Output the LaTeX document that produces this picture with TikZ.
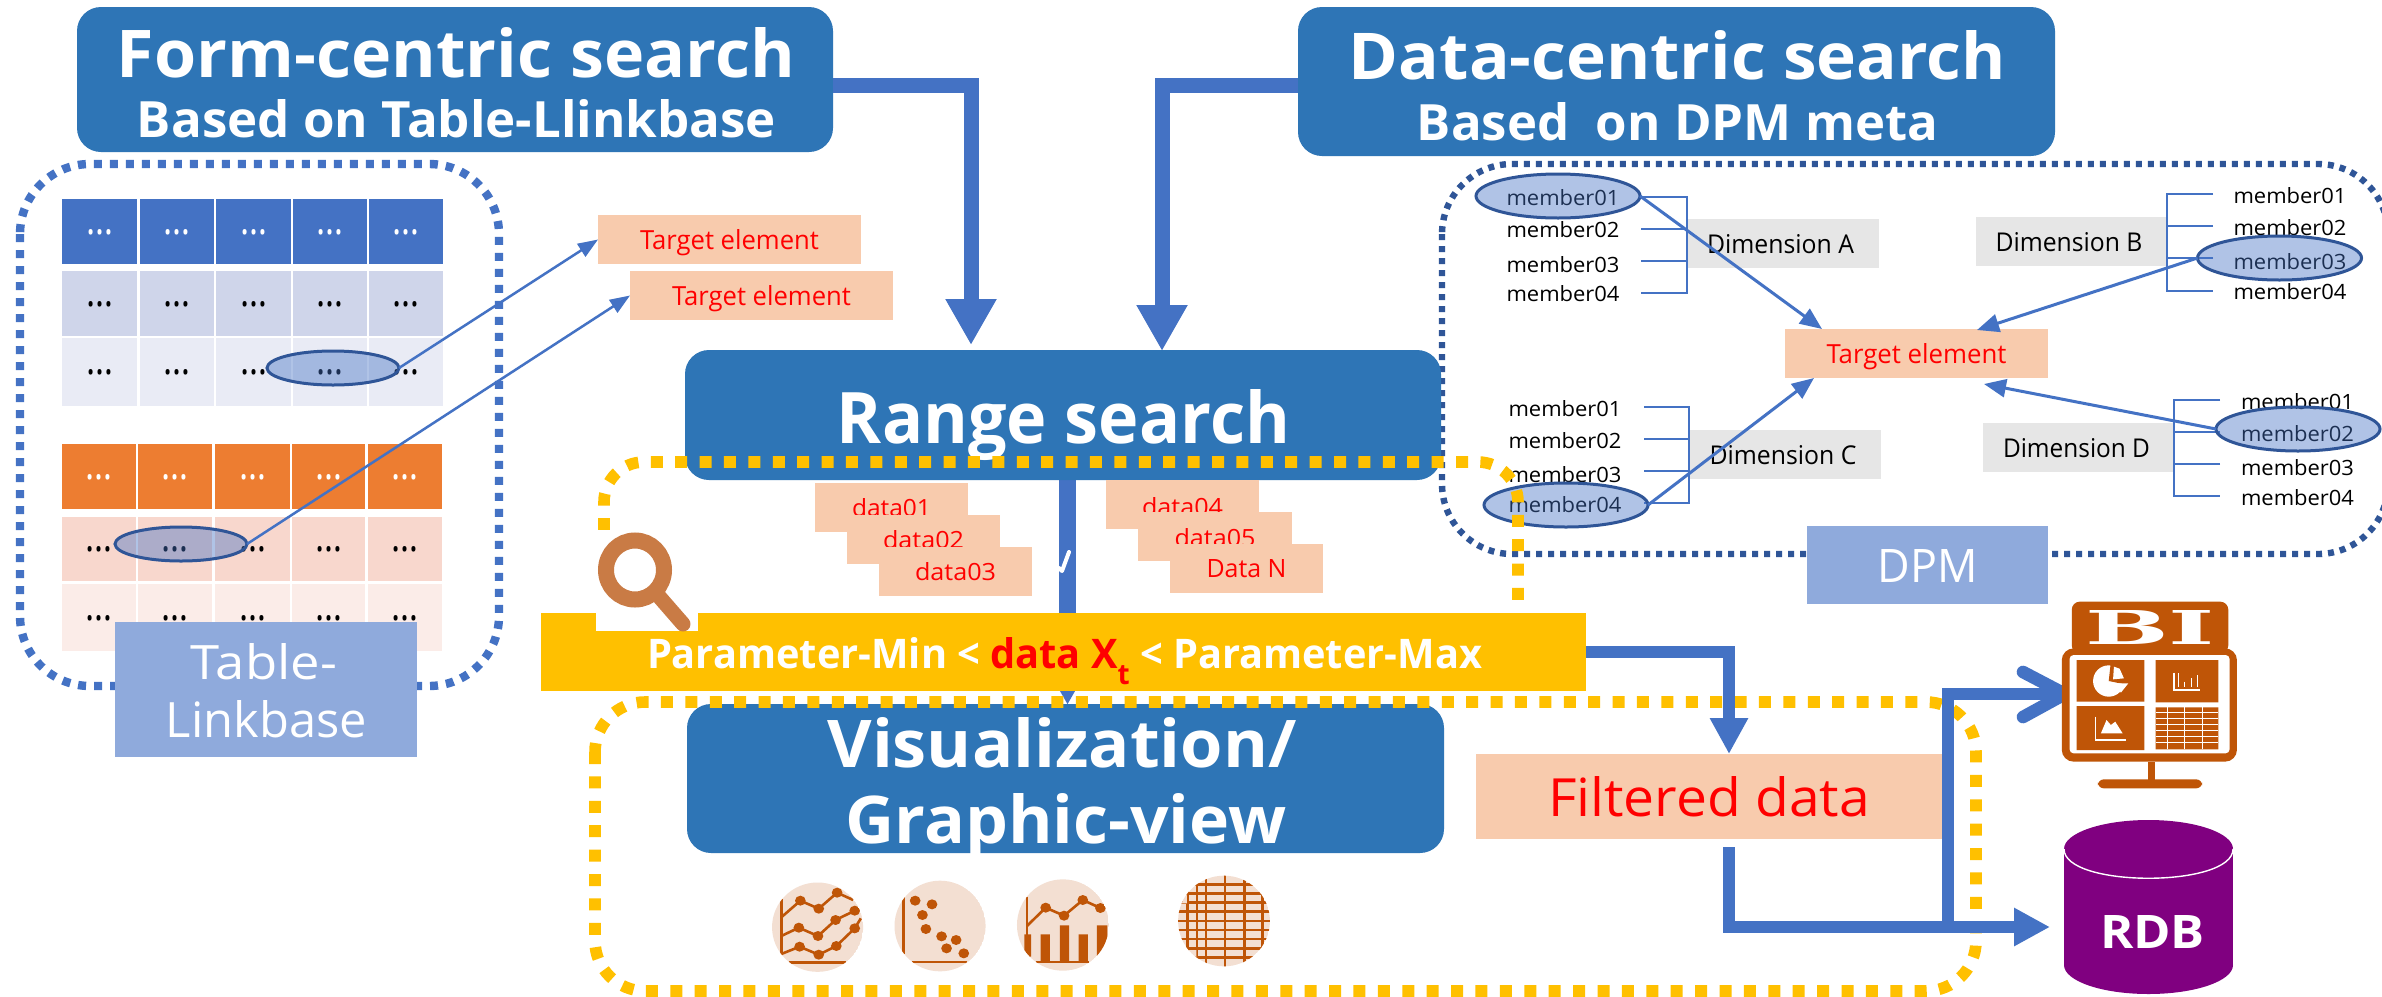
\documentclass[tikz,border=0pt]{standalone}
\usepackage{fontspec}
\setmainfont{Open Sans}
\newfontfamily\bifont{DejaVu Serif}
\usetikzlibrary{arrows.meta,shapes.geometric}
\newdimen\pxu \pxu=0.5pt
\definecolor{cHead}{HTML}{2E75B6}
\definecolor{cArrow}{HTML}{4472C4}
\definecolor{cDpm}{HTML}{2F5597}
\definecolor{cBar}{HTML}{FFC000}
\definecolor{cPeach}{HTML}{F8CBAD}
\definecolor{cGrey}{HTML}{E6E6E6}
\definecolor{cLabel}{HTML}{8FAADC}
\definecolor{cTa}{HTML}{4472C4}
\definecolor{cTb}{HTML}{CFD5EA}
\definecolor{cTc}{HTML}{E9EBF5}
\definecolor{cOa}{HTML}{ED7D31}
\definecolor{cOb}{HTML}{F8D7CD}
\definecolor{cOc}{HTML}{FBECE8}
\definecolor{cIcon}{HTML}{BF5507}
\definecolor{cIconBg}{HTML}{F3DFD2}
\definecolor{cLens}{HTML}{C97B45}
\definecolor{cRdb}{HTML}{800080}
\newcommand\bx[7]{\pgfmathsetmacro\bxx{(#3+#5)/2}\pgfmathsetmacro\bxy{(#4+#6)/2}\pgfmathsetmacro\bxw{(#5-#3)*0.5}\pgfmathsetmacro\bxh{(#6-#4)*0.5}\node[bxs,#2,minimum width=\bxw pt,minimum height=\bxh pt] (#1) at (\bxx,\bxy) {#7};}
\newcommand\fit[5][0]{\raisebox{-#4\pxu}[0pt][0pt]{\makebox[0pt]{\kern#1\pxu\kern#1\pxu\resizebox{#2\pxu}{#3\pxu}{#5}}}}
\newcommand\txt[7]{\node[anchor=base,inner sep=0pt,outer sep=0pt,#6] (#1) at (#2,#3) {\resizebox{#4\pxu}{#5\pxu}{#7}};}
\newcommand\mem[4]{\txt{#1}{#2}{#3}{113}{16}{text=black}{#4}}
\newcommand\tree[7]{\coordinate (#1a1) at (#2,#4);\coordinate (#1b1) at (#3,#4);\coordinate (#1a2) at (#2,#5);\coordinate (#1b2) at (#3,#5);\coordinate (#1a3) at (#2,#6);\coordinate (#1b3) at (#3,#6);\coordinate (#1a4) at (#2,#7);\coordinate (#1b4) at (#3,#7);\draw[treeline] (#1a1) -- (#1b1) -- (#1b4) -- (#1a4) (#1a2) -- (#1b2) (#1a3) -- (#1b3);}
\tikzset{
  bxs/.style={rectangle,inner sep=0pt,outer sep=0pt},
  headbox/.style={fill=cHead,rounded corners=12pt},
  peach/.style={fill=cPeach},
  greybox/.style={fill=cGrey},
  labelbox/.style={fill=cLabel},
  selmark/.style={ellipse,inner sep=0pt,outer sep=0pt,draw=cDpm,line width=1.5pt,fill=cArrow,fill opacity=.42,draw opacity=1,minimum width=#1},
  selmark/.default=82pt,
  thinarrow/.style={draw=cArrow,line width=1.25pt,-{Triangle[length=10pt,width=7.5pt]}},
  dpmarrow/.style={draw=cArrow,line width=1.5pt,-{Triangle[length=11pt,width=9pt]}},
  bigarrow/.style={draw=cArrow,line width=7.5pt,-{Triangle[length=23pt,width=24pt]}},
  midarrow/.style={draw=cArrow,line width=6pt,-{Triangle[length=18pt,width=18pt]}},
  treeline/.style={draw=cArrow,line width=.75pt},
  bluedots/.style={draw=cArrow,line width=4.2pt,dash pattern=on 4pt off 4pt},
  navydots/.style={draw=cDpm,line width=3.2pt,dash pattern=on 3pt off 3pt},
  yellowdash/.style={draw=cBar,line width=5.8pt,dash pattern=on 6pt off 6.2pt},
  iconline/.style={draw=cIcon,line width=1.3pt},
}
\begin{document}
\begin{tikzpicture}[x=0.5pt,y=-0.5pt]
\useasboundingbox (0,0) rectangle (2382,996);
\fill[white] (0,0) rectangle (2382,996);

% ---- left: table-linkbase
\draw[bluedots,rounded corners=35pt] (20,164) rectangle (499,686);
\foreach \xa/\xb [count=\c] in {62/137,140/214,216/291,293/367,369/443}{
  \foreach \ya/\yb/\co/\tc [count=\r] in {199/264/cTa/white,271/336/cTb/black,338/406/cTc/black}{
    \bx{ta-\r-\c}{fill=\co}{\xa}{\ya}{\xb}{\yb}{\fit{27}{5}{2.5}{\textcolor{\tc}{…}}}
  }}
\foreach \xa/\xb [count=\c] in {62/136,138/212,215/290,292/365,368/442}{
  \foreach \ya/\yb/\co/\tc [count=\r] in {444/509/cOa/white,517/581/cOb/black,584/651/cOc/black}{
    \bx{tb-\r-\c}{fill=\co}{\xa}{\ya}{\xb}{\yb}{\fit{27}{5}{2.5}{\textcolor{\tc}{…}}}
  }}
\node[selmark=66pt,minimum height=17pt] (selA) at (333,368) {};
\node[selmark=66pt,minimum height=17pt] (selB) at (181,544) {};
\bx{tgtA}{peach}{598}{215}{861}{264}{\fit{179}{20}{10}{\textcolor{red}{Target element}}}
\bx{tgtB}{peach}{630}{271}{893}{320}{\fit{179}{20}{10}{\textcolor{red}{Target element}}}
\draw[thinarrow] (selA.east) -- (tgtA.west);
\draw[thinarrow] (selB.east) -- (tgtB.west);
\bx{tlb}{labelbox}{115}{622}{417}{757}{}
\txt{tlbA}{264}{679}{146}{36}{text=white}{Table-}
\txt{tlbB}{266.5}{737}{201}{37}{text=white}{Linkbase}

% ---- right: DPM
\draw[navydots,rounded corners=35pt] (1442,164) rectangle (2388,554);
\bx{dpm}{labelbox}{1807}{526}{2048}{604}{\fit{100}{33}{17}{\textcolor{white}{DPM}}}
\bx{dimA}{greybox}{1688}{219}{1879}{268}{\fit[-3]{147}{19}{9.5}{Dimension A}}
\bx{dimB}{greybox}{1976}{217}{2167}{266}{\fit[-2.5]{147}{19}{9.5}{Dimension B}}
\bx{dimC}{greybox}{1690}{430}{1881}{479}{\fit[-2.5]{147}{19}{9.5}{Dimension C}}
\bx{dimD}{greybox}{1983}{423}{2175}{472}{\fit[-2.5]{147}{19}{9.5}{Dimension D}}
\bx{tgtC}{peach}{1785}{329}{2048}{378}{\fit{180}{20}{10}{\textcolor{red}{Target element}}}
\mem{ma1}{1563}{205}{member01}\mem{ma2}{1563}{237}{member02}\mem{ma3}{1563}{272}{member03}\mem{ma4}{1563}{301}{member04}
\mem{mb1}{2290}{203}{member01}\mem{mb2}{2290}{235}{member02}\mem{mb3}{2290}{269}{member03}\mem{mb4}{2290}{299}{member04}
\mem{mc1}{1565}{416}{member01}\mem{mc2}{1565}{448}{member02}\mem{mc3}{1565}{482}{member03}\mem{mc4}{1565}{512}{member04}
\mem{md1}{2297.5}{409}{member01}\mem{md2}{2297.5}{441}{member02}\mem{md3}{2297.5}{475}{member03}\mem{md4}{2297.5}{505}{member04}
\tree{A}{1641}{1687}{197}{229}{261}{293}
\tree{B}{2213}{2167}{194}{226}{258}{291}
\tree{C}{1644}{1689}{407}{439}{471}{503}
\tree{D}{2220}{2174}{400}{432}{464}{496}
\node[selmark,minimum height=22pt] (selM1) at (1558,196) {};
\node[selmark,minimum height=22pt] (selM3) at (2279.5,258) {};
\node[selmark,minimum height=22pt] (selM4) at (1566,505) {};
\node[selmark,minimum height=22pt] (selM2) at (2298,429) {};
\coordinate (inA) at (1822,329);
\coordinate (inB) at (1977,330);
\coordinate (inC) at (1814,378);
\coordinate (inD) at (1984,384);
\draw[dpmarrow] (selM1.east) -- (inA);
\draw[dpmarrow] (selM3.west) -- (inB);
\draw[dpmarrow] (selM4.east) -- (inC);
\draw[dpmarrow] (selM2.west) -- (inD);

% ---- header boxes
\bx{form}{headbox}{77}{7}{833}{152}{}
\txt{formT}{456}{77}{678}{50}{text=white,font=\bfseries}{Form-centric search}
\txt{formS}{456.5}{137}{639}{38}{text=white,font=\bfseries}{Based on Table-Llinkbase}
\bx{data}{headbox}{1298}{7}{2055}{156}{}
\txt{dataT}{1677.5}{79}{657}{49}{text=white,font=\bfseries}{Data-centric search}
\txt{dataS}{1677.5}{140}{521}{38}{text=white,font=\bfseries}{Based\ \ on DPM meta}

% ---- centre column
\coordinate (rangeOut) at (1067.5,480);
\coordinate (vizIn) at (1067.5,705);
\draw[bigarrow,line width=8.5pt] (rangeOut) -- (vizIn);
\draw[white,line width=2pt,line cap=round,line join=round] (1069,552) -- (1062,571) -- (1059,568);
\bx{range}{headbox}{685}{350}{1441}{480}{}
\txt{rangeT}{1063.5}{443}{453}{54}{text=white,font=\bfseries}{Range search}
\bx{dA}{peach}{815}{483}{968}{532}{\fit{79}{18}{9}{\textcolor{red}{data01}}}
\bx{dB}{peach}{847}{515}{1000}{564}{\fit{81}{18}{9}{\textcolor{red}{data02}}}
\bx{dC}{peach}{879}{547}{1032}{596}{\fit{81}{18}{8.5}{\textcolor{red}{data03}}}
\bx{dD}{peach}{1106}{480}{1259}{529}{\fit{81}{18}{11}{\textcolor{red}{data04}}}
\bx{dE}{peach}{1138}{512}{1292}{561}{\fit{81}{18}{10}{\textcolor{red}{data05}}}
\bx{dF}{peach}{1170}{544}{1323}{593}{\fit{80}{18}{9}{\textcolor{red}{Data N}}}
\bx{viz}{headbox}{687}{704}{1444}{853}{}
\txt{vizA}{1062}{767}{469}{50}{text=white,font=\bfseries}{Visualization/}
\txt{vizB}{1066}{843}{441}{50}{text=white,font=\bfseries}{Graphic-view}
\bx{filt}{peach}{1476}{754}{1942}{839}{\fit{322}{40}{20}{\textcolor{red}{Filtered data}}}

% ---- chart icons
\begin{scope}[shift={(720,840)},x=0.19135pt,y=-0.16667pt]
  % icon 1
  \begin{scope}
    \clip (255,261.5) ellipse [x radius=119,y radius=134];
    \fill[cIconBg] (255,261.5) ellipse [x radius=119,y radius=134];
    \draw[iconline] (160,178) -- (160,342) (180,367) -- (328,367);
    \draw[iconline] (160,232) -- (210,182) -- (258,206) -- (306,158) -- (348,180);
    \draw[iconline] (160,288) -- (206,263) -- (256,288) -- (302,240) -- (352,212);
    \draw[iconline] (160,342) -- (208,320) -- (258,344) -- (304,318) -- (352,265) -- (368,235);
    \foreach \u/\v in {210/182,258/206,306/158,206/263,256/288,302/240,352/212,208/320,258/344,304/318,352/265}
      \fill[cIcon] (\u,\v) ellipse [x radius=14,y radius=15];
  \end{scope}
  % icon 2
  \begin{scope}
    \clip (575,258) ellipse [x radius=119,y radius=136];
    \fill[cIconBg] (575,258) ellipse [x radius=119,y radius=136];
    \draw[iconline] (480,172) -- (480,342) (502,366) -- (645,366);
    \foreach \u/\v in {510/182,554/193,529/225,538/267,579/289,617/300,592/325,637/340}
      \fill[cIcon] (\u,\v) ellipse [x radius=14,y radius=15];
  \end{scope}
  % icon 3
  \begin{scope}
    \clip (896,255) ellipse [x radius=120,y radius=137];
    \fill[cIconBg] (896,255) ellipse [x radius=120,y radius=137];
    \draw[iconline] (802,170) -- (802,340) (825,366) -- (965,366);
    \draw[iconline] (802,258) -- (851,203) -- (899,227) -- (948,180) -- (994,204);
    \foreach \u/\v in {851/203,899/227,948/180,994/204}
      \fill[cIcon] (\u,\v) ellipse [x radius=14,y radius=15];
    \fill[cIcon] (795,283) rectangle (813,350) (838,283) rectangle (862,363) (888,256) rectangle (912,363) (937,283) rectangle (961,363) (985,256) rectangle (1012,350);
  \end{scope}
  % icon 4
  \begin{scope}
    \clip (1317,243) ellipse [x radius=120,y radius=136];
    \fill[cIconBg] (1317,243) ellipse [x radius=120,y radius=136];
    \foreach \u in {1222,1246,1270,1320,1370,1418}
      \draw[iconline] (\u,100) -- (\u,385);
    \foreach \v in {133,160,188,215,243,270,297,325,352}
      \draw[iconline] (1195,\v) -- (1440,\v);
    \fill[cIconBg] (1195,100) rectangle (1220,190) (1195,330) rectangle (1245,385) (1390,100) rectangle (1440,130) (1395,355) rectangle (1440,385);
  \end{scope}
\end{scope}

% ---- dashed yellow frames
\draw[yellowdash,rounded corners=20pt] (604,530) -- (604,462) -- (1518,462) -- (1518,600);
\draw[yellowdash,rounded corners=25pt] (595,702) rectangle (1976,991);

% ---- parameter bar and lens
\bx{bar}{fill=cBar}{541}{613}{1586}{691}{\fit[1]{835}{31}{16}{\bfseries\textcolor{white}{Parameter-Min < }\textcolor{red}{data X\raisebox{-.4em}{\scriptsize t}}\textcolor{white}{\ < Parameter-Max}}}
\fill[white] (596,530) rectangle (698,631);
\draw[cLens,line width=8pt] (635,570) ellipse [x radius=29,y radius=29.5];
\draw[cLens,line width=7.5pt,line cap=round] (656,593) -- (683,624);

% ---- flow arrows
\coordinate (formOut) at (833,85);
\coordinate (rangeInA) at (971,345);
\coordinate (dataOut) at (1298,85);
\coordinate (rangeInB) at (1162,351);
\draw[bigarrow] (formOut) -| (rangeInA);
\draw[bigarrow] (dataOut) -| (rangeInB);
\coordinate (filtIn) at (1729,754);
\coordinate (filtOut) at (1729,847);
\coordinate (rdbIn) at (2050,927);
\coordinate (branch) at (1948,921);
\coordinate (biIn) at (2065,694);
\draw[midarrow] (bar.east) -| (filtIn);
\draw[midarrow] (filtOut) |- (rdbIn);
\draw[draw=cArrow,line width=6.3pt] (branch) |- (biIn);
\draw[draw=cArrow,line width=6.3pt,line cap=round,miter limit=10] ([shift={(-42,-22)}]biIn) -- (biIn) -- ([shift={(-42,23)}]biIn);

% ---- BI icon
\begin{scope}[shift={(1700,570)},x=0.21739pt,y=-0.16667pt]
  \fill[cIcon,rounded corners=4pt] (855,95) rectangle (1215,250);
  \fill[cIcon,rounded corners=6pt] (832,235) rectangle (1235,575);
  \fill[white,rounded corners=2pt] (850,255) rectangle (1218,550);
  \fill[cIcon] (866,270) rectangle (1022,395) (1048,270) rectangle (1192,397) (866,408) rectangle (1022,540) (1048,412) rectangle (1192,538);
  \fill[cIcon] (1030,575) rectangle (1046,630);
  \fill[cIcon,rounded corners=3pt] (915,628) rectangle (1155,655);
  \fill[white] (940,333) ellipse [x radius=36,y radius=47];
  \fill[cIcon] (940,333) -- (945,275) -- (985,300) -- (985,345) -- cycle;
  \fill[white] (952,290) -- (965,296) -- (975,325) -- (950,328) -- cycle;
  \fill[white] (955,340) -- (985,340) -- (968,368) -- cycle;
  \foreach \u/\v in {1100/310,1115/335,1130/325,1145/315}
    \draw[white,line width=.6pt] (\u,\v) -- (\u,352);
  \draw[white,line width=.6pt] (1090,308) -- (1090,360) -- (1150,360);
  \draw[white,line width=.7pt] (910,440) -- (910,510) -- (980,510);
  \fill[white] (922,490) -- (935,450) -- (945,465) -- (955,455) -- (972,490) -- cycle;
  \foreach \v in {428,446,464,482,500,518}
    \draw[white,line width=.4pt] (1048,\v) -- (1192,\v);
  \foreach \u in {1075,1115,1155}
    \draw[white,line width=.4pt] (\u,412) -- (\u,538);
\end{scope}
\txt{biT}{2150}{644}{130}{34}{text=white,font=\bifont\bfseries}{BI}

% ---- RDB cylinder
\fill[cRdb] (2064,849) rectangle (2233,965);
\fill[cRdb] (2148.5,849) ellipse [x radius=84.5,y radius=29];
\fill[cRdb] (2148.5,965) ellipse [x radius=84.5,y radius=29];
\draw[white,line width=.7pt] (2064,849) .. controls (2064,888) and (2233,888) .. (2233,849);
\txt{rdbT}{2152.5}{948}{105}{33}{text=white,font=\bfseries}{RDB}
\end{tikzpicture}
\end{document}
